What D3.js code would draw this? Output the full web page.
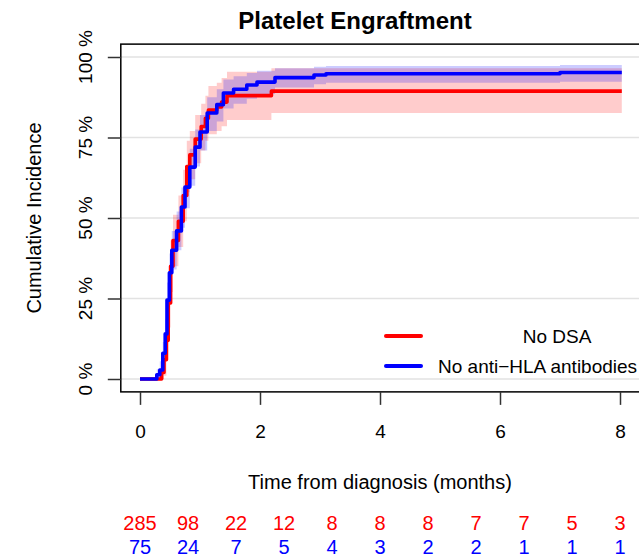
<!DOCTYPE html>
<html>
<head>
<meta charset="utf-8">
<script src="https://cdn.jsdelivr.net/npm/d3@7"></script>
<style>
  body { margin: 0; background: #fff; }
  svg { display: block; font-family: "Liberation Sans", Arial, Helvetica, sans-serif; }
</style>
</head>
<body>
<div class="chart"></div>
<script>
// No DSA (red)
let redTime = [0, 0.36, 0.40, 0.44, 0.47, 0.51, 0.55, 0.64, 0.72, 0.78, 0.83, 0.92, 1.02, 1.09, 1.14, 1.28, 1.36, 1.45, 2.19, 8.03];
let redEst  = [0, 2, 6, 12, 23.6, 35, 43, 49, 57, 66, 69.6, 74.5, 78.4, 81, 83.5, 84.5, 86, 88, 89.4, 89.4];
let redLow  = [0, 0, 1, 6, 16, 27, 35, 41, 49, 58, 62, 67, 71, 74, 76, 77, 78.5, 80.4, 82.6, 82.6];
let redHigh = [0, 4, 10, 18, 31, 43, 51, 57, 65, 74, 77, 82, 85.5, 88, 91, 92, 93.5, 95.4, 96.5, 96.5];

// No anti-HLA antibodies (blue)
let blueTime = [0, 0.28, 0.33, 0.38, 0.42, 0.45, 0.49, 0.53, 0.61, 0.69, 0.75, 0.83, 0.92, 1.0, 1.12, 1.28, 1.39, 1.56, 1.78, 1.95, 2.25, 2.9, 3.1, 7.0, 8.03];
let blueEst  = [0, 1.3, 2.8, 8, 14, 24.5, 33, 40, 46, 53.4, 59.6, 65.8, 72, 76.7, 82.6, 85.2, 88.8, 90, 91.3, 92.2, 93.6, 94.4, 94.8, 95.2, 95.2];
let blueLow  = [0, 0, 0.5, 4.5, 9.5, 19, 27, 34, 40, 47, 53, 60, 66, 71, 77, 80, 84, 85.5, 87, 88.5, 90.5, 91.5, 92, 92.3, 92.3];
let blueHigh = [0, 3, 5.5, 11.5, 18.5, 30, 39, 46, 52, 59.5, 65.5, 71.5, 77.5, 82, 87.5, 90, 93, 94, 95, 95.7, 96.5, 97, 97.2, 97.5, 97.5];

let xTicks = [0, 2, 4, 6, 8];
let yTicks = [0, 25, 50, 75, 100];

// numbers at risk, every 0.8 months
let riskTimes = [0, 0.8, 1.6, 2.4, 3.2, 4.0, 4.8, 5.6, 6.4, 7.2, 8.0];
let riskRed  = [285, 98, 22, 12, 8, 8, 8, 7, 7, 5, 3];
let riskBlue = [75, 24, 7, 5, 4, 3, 2, 2, 1, 1, 1];

let legendNames = ["No DSA", "No anti\u2212HLA antibodies"];
let colors = ["#ff0000", "#0000ff"];

let width = 639, height = 558;

let svg = d3.select(".chart").append("svg")
  .attr("width", width)
  .attr("height", height);

let x = d3.scaleLinear().domain([0, 8]).range([140, 620]);
let y = d3.scaleLinear().domain([0, 100]).range([379, 57]);

let x0 = x(-0.32), x1 = x(8.35);
let yTop = y(104), yBot = y(-4);

// grid
svg.selectAll(".grid")
  .data(yTicks)
  .join("line")
  .attr("class", "grid")
  .attr("x1", x0).attr("x2", x1)
  .attr("y1", d => y(d)).attr("y2", d => y(d))
  .attr("stroke", "#e2e2e2")
  .attr("stroke-width", 1.5);

function toRows(t, e, lo, hi) {
  return t.map((d, i) => ({ t: d, est: e[i], lo: lo[i], hi: hi[i] }));
}
let groups = [
  toRows(redTime, redEst, redLow, redHigh),
  toRows(blueTime, blueEst, blueLow, blueHigh)
];

let band = d3.area()
  .curve(d3.curveStepAfter)
  .x(d => x(d.t))
  .y0(d => y(d.lo))
  .y1(d => y(d.hi));

let line = d3.line()
  .curve(d3.curveStepAfter)
  .x(d => x(d.t))
  .y(d => y(d.est));

svg.selectAll(".band")
  .data(groups)
  .join("path")
  .attr("class", "band")
  .attr("d", band)
  .attr("fill", (d, i) => colors[i])
  .attr("fill-opacity", 0.2);

svg.selectAll(".curve")
  .data(groups)
  .join("path")
  .attr("class", "curve")
  .attr("d", line)
  .attr("fill", "none")
  .attr("stroke", (d, i) => colors[i])
  .attr("stroke-width", 3.6)
  .attr("stroke-linejoin", "round");

// legend
let leg = svg.append("g");
leg.append("rect")
  .attr("x", 378).attr("y", 300)
  .attr("width", 232).attr("height", 76)
  .attr("fill", "#fff");
leg.selectAll(".legline")
  .data(legendNames)
  .join("line")
  .attr("x1", 386).attr("x2", 421)
  .attr("y1", (d, i) => 336 + i * 30)
  .attr("y2", (d, i) => 336 + i * 30)
  .attr("stroke", (d, i) => colors[i])
  .attr("stroke-width", 4)
  .attr("stroke-linecap", "round");
leg.selectAll(".legtext")
  .data(legendNames)
  .join("text")
  .attr("x", (d, i) => i === 0 ? 557 : 438)
  .attr("y", (d, i) => 343 + i * 30)
  .attr("text-anchor", (d, i) => i === 0 ? "middle" : "start")
  .attr("font-size", 19)
  .text(d => d);

// box
svg.append("rect")
  .attr("x", x0).attr("y", yTop)
  .attr("width", x1 - x0).attr("height", yBot - yTop)
  .attr("fill", "none")
  .attr("stroke", "#000")
  .attr("stroke-width", 1.5);

// axes
svg.append("g")
  .attr("transform", "translate(0," + yBot + ")")
  .call(d3.axisBottom(x).tickValues(xTicks).tickSize(13).tickPadding(20).tickFormat(d3.format("d")))
  .call(g => g.select(".domain").remove())
  .call(g => g.selectAll("line").attr("stroke", "#333").attr("stroke-width", 1.5))
  .call(g => g.selectAll("text").attr("font-size", 19).attr("fill", "#000").attr("font-family", null));

svg.append("g")
  .attr("transform", "translate(" + x0 + ",0)")
  .call(d3.axisLeft(y).tickValues(yTicks).tickSize(13).tickFormat(""))
  .call(g => g.select(".domain").remove())
  .call(g => g.selectAll("line").attr("stroke", "#333").attr("stroke-width", 1.5));

svg.selectAll(".ylab")
  .data(yTicks)
  .join("text")
  .attr("class", "ylab")
  .attr("transform", d => "translate(92," + y(d) + ") rotate(-90)")
  .attr("text-anchor", "middle")
  .attr("font-size", 19)
  .text(d => d + " %");

svg.append("text")
  .attr("transform", "translate(41," + ((yTop + yBot) / 2) + ") rotate(-90)")
  .attr("text-anchor", "middle")
  .attr("font-size", 20)
  .text("Cumulative Incidence");

svg.append("text")
  .attr("x", x(4)).attr("y", 489)
  .attr("text-anchor", "middle")
  .attr("font-size", 20)
  .text("Time from diagnosis (months)");

svg.append("text")
  .attr("x", 355).attr("y", 29)
  .attr("text-anchor", "middle")
  .attr("font-size", 24)
  .attr("font-weight", "bold")
  .text("Platelet Engraftment");

// numbers at risk
svg.selectAll(".riskRed")
  .data(riskRed)
  .join("text")
  .attr("x", (d, i) => x(riskTimes[i]))
  .attr("y", 530)
  .attr("text-anchor", "middle")
  .attr("font-size", 20)
  .attr("fill", colors[0])
  .text(d => d);

svg.selectAll(".riskBlue")
  .data(riskBlue)
  .join("text")
  .attr("x", (d, i) => x(riskTimes[i]))
  .attr("y", 554)
  .attr("text-anchor", "middle")
  .attr("font-size", 20)
  .attr("fill", colors[1])
  .text(d => d);
</script>
</body>
</html>
